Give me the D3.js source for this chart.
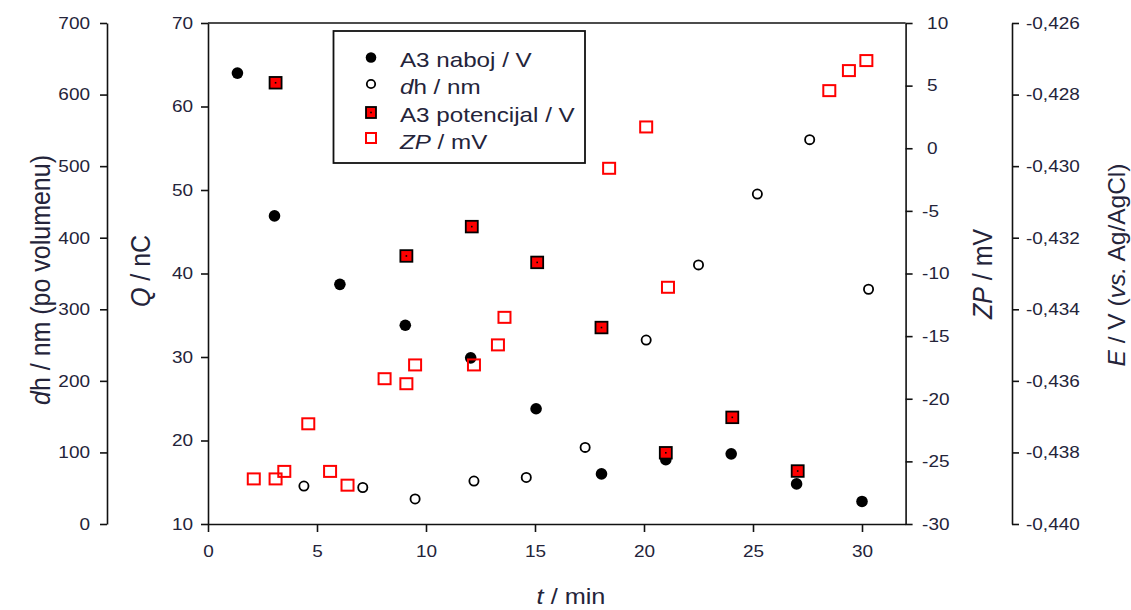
<!DOCTYPE html>
<html><head><meta charset="utf-8">
<script src="https://cdn.jsdelivr.net/npm/d3@7"></script>
<style>
body{margin:0;background:#fff;}
svg{display:block;font-family:"Liberation Sans",Arial,sans-serif;}
</style></head><body>
<svg id="chart" width="1131" height="610"></svg>
<script>
// ---- data ----
const xTicks = [0, 5, 10, 15, 20, 25, 30];
const qTicks = [10, 20, 30, 40, 50, 60, 70];
const dhTicks = [0, 100, 200, 300, 400, 500, 600, 700];
const zpTicks = [-30, -25, -20, -15, -10, -5, 0, 5, 10];
const eTicks = [-0.440, -0.438, -0.436, -0.434, -0.432, -0.430, -0.428, -0.426];

const nabojT = [1.35, 3.05, 6.05, 9.05, 12.05, 15.05, 18.05, 21.0, 24.0, 27.0, 30.0];
const nabojQ = [64.0, 46.9, 38.7, 33.8, 29.9, 23.8, 16.0, 17.7, 18.4, 14.8, 12.7];

const dhT = [4.4, 7.1, 9.5, 12.2, 14.6, 17.3, 20.1, 22.5, 25.2, 27.6, 30.3];
const dhNm = [53, 51, 35, 60, 65, 107, 257, 362, 461, 537, 328];

const potT = [3.1, 9.1, 12.1, 15.1, 18.05, 21.0, 24.05, 27.05];
const potE = [-0.42767, -0.43251, -0.43169, -0.43269, -0.43451, -0.43801, -0.43702, -0.43852];

const zpT = [2.1, 3.1, 3.5, 4.6, 5.6, 6.4, 8.1, 9.1, 9.5, 12.2, 13.3, 13.6, 18.4, 20.1, 21.1, 28.5, 29.4, 30.2];
const zpMV = [-26.4, -26.4, -25.8, -22.0, -25.8, -26.9, -18.4, -18.8, -17.3, -17.3, -15.7, -13.5, -1.6, 1.7, -11.1, 4.6, 6.2, 7.0];

const legendLabels = ["A3 naboj / V", "dh / nm", "A3 potencijal / V", "ZP / mV"];

// ---- layout ----
const TXT = "#24243a";
const S = 1.15;        // horizontal text stretch seen in the reference
const yTop = 23, yBot = 524;
const svg = d3.select("#chart");

const x = d3.scaleLinear().domain([0, 32]).range([208, 905.6]);
const yQ = d3.scaleLinear().domain([10, 70]).range([yBot, yTop]);
const yDh = d3.scaleLinear().domain([0, 700]).range([yBot, yTop]);
const yZP = d3.scaleLinear().domain([-30, 10]).range([yBot, yTop]);
const yE = d3.scaleLinear().domain([-0.440, -0.426]).range([yBot, yTop]);

const loc = d3.formatLocale({decimal: ",", thousands: ".", grouping: [3], currency: ["", ""], minus: "-"});
const fInt = loc.format("d");
const fE = loc.format(".3f");

function styleAxis(g) {
  g.attr("font-family", null).attr("font-size", null);
  g.select(".domain").attr("stroke", "#111").attr("stroke-width", 1.6);
  g.selectAll(".tick line").attr("stroke", "#111").attr("stroke-width", 1.6);
  g.selectAll(".tick text").attr("fill", TXT).style("font-size", "16.5px");
}

// left dh axis
const gDh = svg.append("g").attr("transform", `translate(107,0)`)
  .call(d3.axisLeft(yDh).tickValues(dhTicks).tickFormat(fInt).tickSize(7).tickSizeOuter(0));
styleAxis(gDh);
gDh.selectAll(".tick text").attr("x", null).attr("transform", `translate(-17,0) scale(${S},1)`);

// Q axis
const gQ = svg.append("g").attr("transform", `translate(${x(0)},0)`)
  .call(d3.axisLeft(yQ).tickValues(qTicks).tickFormat(fInt).tickSize(7).tickSizeOuter(0));
styleAxis(gQ);
gQ.selectAll(".tick text").attr("x", null).attr("transform", `translate(-15,0) scale(${S},1)`);

// x axis
const gX = svg.append("g").attr("transform", `translate(0,${yBot})`)
  .call(d3.axisBottom(x).tickValues(xTicks).tickFormat(fInt).tickSize(8).tickSizeOuter(0));
styleAxis(gX);
gX.selectAll(".tick text").attr("y", null).attr("dy", null).attr("transform", `translate(0,33) scale(${S},1)`);

// ZP axis (right of frame)
const gZ = svg.append("g").attr("transform", `translate(${x(32)},0)`)
  .call(d3.axisRight(yZP).tickValues(zpTicks).tickFormat(fInt).tickSize(7).tickSizeOuter(0));
styleAxis(gZ);
gZ.selectAll(".tick text").attr("x", null)
  .attr("transform", d => `translate(${d < 0 ? 16.5 : 21.5},0) scale(${S},1)`);

// E axis
const gE = svg.append("g").attr("transform", `translate(1012,0)`)
  .call(d3.axisRight(yE).tickValues(eTicks).tickFormat(fE).tickSize(7).tickSizeOuter(0));
styleAxis(gE);
gE.selectAll(".tick text").attr("x", null).attr("transform", `translate(14,0) scale(${S},1)`);

// top frame line
svg.append("line").attr("x1", x(0)).attr("x2", x(32)).attr("y1", yTop).attr("y2", yTop)
  .attr("stroke", "#111").attr("stroke-width", 1.6);

// ---- titles ----
function title(parts, tx, ty, size, rot, sx) {
  const t = svg.append("text")
    .attr("transform", `translate(${tx},${ty}) scale(${sx},1)` + (rot ? " rotate(-90)" : ""))
    .attr("text-anchor", "middle").attr("dominant-baseline", "central")
    .attr("fill", TXT).style("font-size", size + "px");
  parts.forEach(p => t.append("tspan").text(p[0]).style("font-style", p[1] ? "italic" : "normal"));
  return t;
}
title([["d", true], ["h / nm (po volumenu)", false]], 41, 280, 25, true, 1.08);
title([["Q", true], [" / nC", false]], 141, 271, 25, true, 1.08);
title([["ZP", true], [" / mV", false]], 983, 274, 25, true, 1.08);
title([["E", true], [" / V (", false], ["vs.", true], [" Ag/AgCl)", false]], 1115.5, 265, 24.5, true, 1);
title([["t", true], [" / min", false]], 571, 597, 22, false, S);

// ---- marks ----
const plot = svg.append("g");

// A3 naboj (filled black) on Q axis
plot.selectAll("circle.naboj").data(nabojT.map((t, i) => [t, nabojQ[i]])).join("circle")
  .attr("class", "naboj").attr("cx", d => x(d[0])).attr("cy", d => yQ(d[1]))
  .attr("r", 5.8).attr("fill", "#000");

// dh (open black) on dh axis
plot.selectAll("circle.dh").data(dhT.map((t, i) => [t, dhNm[i]])).join("circle")
  .attr("class", "dh").attr("cx", d => x(d[0])).attr("cy", d => yDh(d[1]))
  .attr("r", 4.6).attr("fill", "none").attr("stroke", "#000").attr("stroke-width", 1.8);

// A3 potencijal (red filled square) on E axis
const potG = plot.selectAll("g.pot").data(potT.map((t, i) => [t, potE[i]])).join("g")
  .attr("class", "pot").attr("transform", d => `translate(${x(d[0])},${yE(d[1])})`);
potG.append("rect").attr("x", -6).attr("y", -5.8).attr("width", 12).attr("height", 11.6)
  .attr("fill", "#ff0000").attr("stroke", "#000").attr("stroke-width", 1.8);
potG.append("rect").attr("x", -0.8).attr("y", -0.8).attr("width", 1.6).attr("height", 1.6).attr("fill", "#000");

// ZP (open red square) on ZP axis
plot.selectAll("rect.zp").data(zpT.map((t, i) => [t, zpMV[i]])).join("rect")
  .attr("class", "zp").attr("x", d => x(d[0]) - 6).attr("y", d => yZP(d[1]) - 5.5)
  .attr("width", 12).attr("height", 11).attr("fill", "none")
  .attr("stroke", "#ff0000").attr("stroke-width", 2);

// ---- legend ----
const lg = svg.append("g");
lg.append("rect").attr("x", 333.5).attr("y", 31).attr("width", 251.5).attr("height", 132)
  .attr("fill", "#fff").attr("stroke", "#111").attr("stroke-width", 1.8);
const rowY = i => 66.5 + i * 27.5;
const lx = 371;
lg.append("circle").attr("cx", lx).attr("cy", rowY(0) - 9).attr("r", 5.3).attr("fill", "#000");
lg.append("circle").attr("cx", lx).attr("cy", rowY(1) - 10).attr("r", 4.2).attr("fill", "none")
  .attr("stroke", "#000").attr("stroke-width", 1.8);
lg.append("rect").attr("x", lx - 5).attr("y", rowY(2) - 14.5).attr("width", 10).attr("height", 11)
  .attr("fill", "#ff0000").attr("stroke", "#000").attr("stroke-width", 1.8);
lg.append("rect").attr("x", lx - 0.8).attr("y", rowY(2) - 9.8).attr("width", 1.6).attr("height", 1.6).attr("fill", "#000");
lg.append("rect").attr("x", lx - 5).attr("y", rowY(3) - 16).attr("width", 10).attr("height", 10)
  .attr("fill", "none").attr("stroke", "#ff0000").attr("stroke-width", 2);

const legParts = [
  [[legendLabels[0], false]],
  [["d", true], [legendLabels[1].slice(1), false]],
  [[legendLabels[2], false]],
  [["ZP", true], [legendLabels[3].slice(2), false]]
];
legParts.forEach((parts, i) => {
  const t = lg.append("text").attr("transform", `translate(400,${rowY(i)}) scale(1.18,1)`)
    .attr("fill", TXT).style("font-size", "20.5px");
  parts.forEach(p => t.append("tspan").text(p[0]).style("font-style", p[1] ? "italic" : "normal"));
});
</script>
</body></html>
